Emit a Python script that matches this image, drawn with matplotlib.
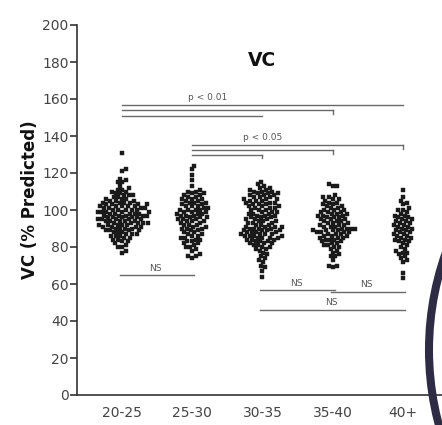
import numpy as np
import matplotlib
matplotlib.use("Agg")
import matplotlib.pyplot as plt
from matplotlib.patches import Ellipse

categories = ["20-25", "25-30", "30-35", "35-40", "40+"]

g_20_25 = [131, 122, 121, 117, 116, 115, 115, 113, 112, 111, 111, 110, 110, 109, 109, 108, 108,
           108, 107, 107, 106, 106, 106, 105, 105, 105, 104, 104, 104, 104, 103, 103, 103, 103,
           102, 102, 102, 102, 102, 101, 101, 101, 101, 100, 100, 100, 100, 100, 99, 99, 99, 99,
           99, 98, 98, 98, 98, 98, 97, 97, 97, 97, 97, 96, 96, 96, 96, 96, 95, 95, 95, 95, 95,
           94, 94, 94, 94, 94, 93, 93, 93, 93, 93, 92, 92, 92, 92, 92, 91, 91, 91, 91, 90, 90,
           90, 90, 89, 89, 89, 89, 88, 88, 88, 87, 87, 87, 86, 86, 86, 85, 85, 84, 84, 83, 83,
           82, 81, 80, 80, 78, 77]
g_25_30 = [124, 122, 119, 116, 113, 111, 110, 110, 109, 109, 108, 108, 107, 107, 106, 106, 106,
           105, 105, 104, 104, 104, 103, 103, 102, 102, 102, 101, 101, 100, 100, 100, 100, 99,
           99, 99, 98, 98, 98, 97, 97, 97, 96, 96, 96, 95, 95, 95, 94, 94, 94, 93, 93, 92, 92,
           92, 91, 91, 90, 90, 90, 89, 89, 88, 88, 87, 87, 86, 86, 85, 85, 84, 84, 83, 83, 82,
           82, 81, 80, 80, 79, 78, 76, 75, 74, 75]
g_30_35 = [115, 114, 113, 112, 112, 111, 111, 110, 110, 110, 109, 109, 109, 108, 108, 108, 107,
           107, 107, 106, 106, 106, 105, 105, 105, 104, 104, 104, 103, 103, 103, 102, 102, 102,
           101, 101, 101, 100, 100, 100, 99, 99, 99, 98, 98, 98, 97, 97, 97, 96, 96, 96, 95, 95,
           95, 94, 94, 94, 93, 93, 93, 92, 92, 92, 91, 91, 91, 91, 90, 90, 90, 90, 89, 89, 89,
           89, 88, 88, 88, 88, 87, 87, 87, 87, 86, 86, 86, 86, 85, 85, 85, 85, 84, 84, 84, 83,
           83, 83, 82, 82, 82, 81, 81, 80, 80, 79, 79, 78, 77, 76, 75, 74, 73, 72, 70, 69, 67, 64]
g_35_40 = [114, 113, 113, 108, 107, 107, 106, 106, 105, 104, 104, 103, 103, 102, 102, 101, 101,
           100, 100, 100, 99, 99, 99, 98, 98, 98, 97, 97, 97, 96, 96, 96, 95, 95, 95, 94, 94, 94,
           93, 93, 93, 92, 92, 92, 91, 91, 91, 90, 90, 90, 90, 89, 89, 89, 89, 88, 88, 88, 88,
           87, 87, 87, 86, 86, 86, 85, 85, 85, 84, 84, 84, 83, 83, 82, 82, 81, 81, 80, 80, 79,
           78, 77, 76, 75, 75, 73, 70, 69, 70]
g_40_plus = [111, 107, 105, 104, 103, 101, 100, 100, 99, 98, 97, 97, 96, 96, 95, 95, 94, 94, 93,
             93, 92, 92, 91, 91, 90, 90, 89, 89, 88, 88, 87, 87, 86, 86, 85, 85, 84, 84, 83, 83,
             82, 81, 80, 79, 78, 77, 77, 76, 75, 74, 73, 72, 66, 63]
groups = [g_20_25, g_25_30, g_30_35, g_35_40, g_40_plus]

# significance brackets: (start group, end group, y level, tick at end)
brackets_01 = [(0, 4, 157, False), (0, 3, 154, True), (0, 2, 151, False)]
brackets_05 = [(1, 4, 135, True), (1, 3, 132.5, True), (1, 2, 130, True)]
ns_brackets = [(0, 1, 65, 68.5), (2, 3, 57, 60.5), (3, 4, 55.5, 59.5), (2, 4, 46, 50)]

W, H = 442, 425
fig = plt.figure(figsize=(W / 100, H / 100), dpi=100)
ax = fig.add_axes([77 / W, 1 - 395 / H, 1 - 77 / W, (395 - 25) / H])
ax.set_ylim(0, 200)
ax.set_xlim(-0.64, 4.555)

# beeswarm layout in pixel space
px_per_x = (W - 77) / (4.555 + 0.64)
px_per_y = 370 / 200.0
d = 4.3
for i, vals in enumerate(groups):
    vals_sorted = sorted(vals)
    placed = []
    xs = []
    for v in vals_sorted:
        py = v * px_per_y
        cands = [0.0]
        for (ox, oy) in placed:
            dy = py - oy
            if abs(dy) < d:
                dx = np.sqrt(d * d - dy * dy)
                cands += [ox + dx, ox - dx]
        cands.sort(key=abs)
        for c in cands:
            ok = all((c - ox) ** 2 + (py - oy) ** 2 >= d * d - 1e-6 for (ox, oy) in placed)
            if ok:
                break
        placed.append((c, py))
        xs.append(i + c / px_per_x)
    ax.plot(xs, vals_sorted, "s", ms=2.5, color="#1a1a1a", mec="#1a1a1a", mew=0.3)

lc = "#6a6a6a"
for a, b, y, tick in brackets_01 + brackets_05:
    ax.plot([a, b], [y, y], color=lc, lw=1.0)
    if tick:
        ax.plot([b, b], [y, y - 2], color=lc, lw=1.0)
ax.text(1.22, 158.5, "p < 0.01", fontsize=6.5, color="#555", ha="center", va="bottom")
ax.text(2.0, 136.5, "p < 0.05", fontsize=6.5, color="#555", ha="center", va="bottom")
for a, b, y, ty in ns_brackets:
    ax.plot([a - 0.03, b + 0.03], [y, y], color=lc, lw=1.0)
    ax.text((a + b) / 2 - 0.02, ty, "NS", fontsize=6.5, color="#555", ha="center", va="center")

ax.text(2.0, 181, "VC", fontsize=13.5, fontweight="bold", ha="center", va="center", color="#111")

ax.set_xticks(range(5))
ax.set_xticklabels(categories)
ax.set_yticks(range(0, 201, 20))
for s in ["top", "right"]:
    ax.spines[s].set_visible(False)
for s in ["left", "bottom"]:
    ax.spines[s].set_color("#333")
    ax.spines[s].set_linewidth(1.2)
ax.tick_params(axis="y", length=5, width=1.2, color="#333", labelsize=10, labelcolor="#444", pad=1)
ax.tick_params(axis="x", length=0, labelsize=10, labelcolor="#444", pad=8)
fig.text(30 / W, 1 - 200 / H, "VC (% Predicted)", rotation=90, fontsize=12, fontweight="bold",
         ha="center", va="center", color="#111")

# dark arc overlay at right edge
r = 290
arc = Ellipse(((429 + r) / W, 1 - 350 / H), 2 * r / W, 2 * r / H, transform=fig.transFigure,
              fill=False, lw=5.8, edgecolor="#2e2c44", clip_on=False)
fig.add_artist(arc)

fig.savefig("out.png", dpi=100)
